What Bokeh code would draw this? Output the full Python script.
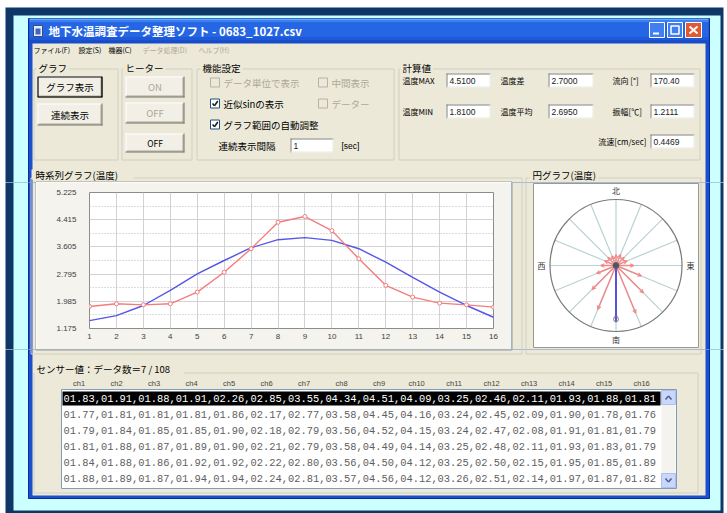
import numpy as np
from bokeh.plotting import figure
from bokeh.models import Range1d, FixedTicker, PrintfTickFormatter, ColumnDataSource
from bokeh.layouts import column, row
from bokeh.embed import file_html
from bokeh.resources import INLINE
from bokeh.core.properties import value

# ---------------- data ----------------
channels = list(range(1, 17))
channel_names = ["ch1", "ch2", "ch3", "ch4", "ch5", "ch6", "ch7", "ch8",
                 "ch9", "ch10", "ch11", "ch12", "ch13", "ch14", "ch15", "ch16"]
measured = [1.83, 1.91, 1.88, 1.91, 2.26, 2.85, 3.55, 4.34,
            4.51, 4.09, 3.25, 2.46, 2.11, 1.93, 1.88, 1.81]
fitted = [1.41, 1.56, 1.86, 2.31, 2.80, 3.20, 3.58, 3.82,
          3.88, 3.80, 3.55, 3.15, 2.70, 2.26, 1.86, 1.51]
y_ticks = [1.175, 1.985, 2.795, 3.605, 4.415, 5.225]
sensor_bearing = [0, 22.5, 45, 67.5, 90, 112.5, 135, 157.5,
                  180, 202.5, 225, 247.5, 270, 292.5, 315, 337.5]
flow_bearing = 180.0
flow_length = 0.86
sensor_rows = [
    measured,
    [1.77, 1.81, 1.81, 1.81, 1.86, 2.17, 2.77, 3.58, 4.45, 4.16, 3.24, 2.45, 2.09, 1.90, 1.78, 1.76],
    [1.79, 1.84, 1.85, 1.85, 1.90, 2.18, 2.79, 3.56, 4.52, 4.15, 3.24, 2.47, 2.08, 1.91, 1.81, 1.79],
    [1.81, 1.88, 1.87, 1.89, 1.90, 2.21, 2.79, 3.58, 4.49, 4.14, 3.25, 2.48, 2.11, 1.93, 1.83, 1.79],
    [1.84, 1.88, 1.86, 1.92, 1.92, 2.22, 2.80, 3.56, 4.50, 4.12, 3.25, 2.50, 2.15, 1.95, 1.85, 1.89],
    [1.88, 1.89, 1.87, 1.94, 1.94, 2.24, 2.81, 3.57, 4.56, 4.12, 3.26, 2.51, 2.14, 1.97, 1.87, 1.82],
]
calc_labels = [["温度MAX", "温度差", "流向 [°]"], ["温度MIN", "温度平均", "振幅[℃]"], ["", "", "流速[cm/sec]"]]
calc_values = [["4.5100", "2.7000", "170.40"], ["1.8100", "2.6950", "1.2111"], ["", "", "0.4469"]]
window_title = "地下水温調査データ整理ソフト - 0683_1027.csv"
menu_items = ["ファイル(F)", "設定(S)", "機器(C)", "データ処理(D)", "ヘルプ(H)"]
table_title = "センサー値：データ数＝7 / 108"

# ---------------- drawing helpers (pixel coordinates, origin 8px in from page corner) ----------------
JP = "Noto Sans CJK JP"
SANS = "Liberation Sans"
MONO = "Liberation Mono"
PR = []


def Q(x0, y0, x1, y1, fill=None, line=None, lw=1.0):
    PR.append(("quad", dict(x0=x0, y0=y0, x1=x1, y1=y1, fill=fill, line=line, lw=lw)))


def S(x0, y0, x1, y1, color, lw=1.0, dash="solid"):
    PR.append(("seg" + dash, dict(x0=x0, y0=y0, x1=x1, y1=y1, color=color, lw=lw, dash=dash)))


def C(x, y, r, fill=None, line=None, lw=1.0):
    PR.append(("circ", dict(x=x, y=y, r=r, fill=fill, line=line, lw=lw)))


def T(x, y, s, size=9.5, color="#000000", font=JP, align="left", style="normal"):
    PR.append(("text", dict(x=x, y=y, s=s, size=size, color=color, font=font, align=align, style=style)))


def tw(s, size):
    return sum(size if ord(c) > 0x2000 else 0.56 * size for c in s)


def bbox(kind, d):
    if kind == "quad":
        return d["x0"] - 1, d["y0"] - 1, d["x1"] + 1, d["y1"] + 1
    if kind.startswith("seg"):
        return (min(d["x0"], d["x1"]) - 1, min(d["y0"], d["y1"]) - 1,
                max(d["x0"], d["x1"]) + 1, max(d["y0"], d["y1"]) + 1)
    return d["x"] - d["r"] - 1, d["y"] - d["r"] - 1, d["x"] + d["r"] + 1, d["y"] + d["r"] + 1


def group(x0, y0, x1, y1, label, lx, size=9.5):
    Q(x0 + 0.5, y0 + 0.5, x1 - 0.5, y1 - 0.5, line="#d0d0bf")
    w = tw(label, size)
    Q(lx - 2, y0 - 5, lx + w + 2, y0 + 3, fill="#ece9d8")
    T(lx, y0 - 1, label, size)


def button(x0, y0, x1, y1, label, enabled=True, focused=False, size=9.5):
    Q(x0, y0, x1, y1, fill="#f1efe6")
    S(x0, y0 + 0.5, x1, y0 + 0.5, "#ffffff")
    S(x0 + 0.5, y0, x0 + 0.5, y1, "#ffffff")
    S(x0 + 1, y1 - 1.5, x1 - 1, y1 - 1.5, "#aca899")
    S(x1 - 1.5, y0 + 1, x1 - 1.5, y1 - 1, "#aca899")
    S(x0, y1 - 0.5, x1, y1 - 0.5, "#716f64")
    S(x1 - 0.5, y0, x1 - 0.5, y1, "#716f64")
    if focused:
        Q(x0 + 0.5, y0 + 0.5, x1 - 0.5, y1 - 0.5, line="#000000", lw=1.2)
    T((x0 + x1) / 2, (y0 + y1) / 2, label, size,
      color="#000000" if enabled else "#aca899", align="center")


def checkbox(x, y, label, checked, enabled, size=9.5):
    b = 9
    y0 = y - b / 2
    Q(x, y0, x + b, y0 + b, fill="#ffffff" if enabled else "#ece9d8",
      line="#1c5180" if enabled else "#b5b3a8")
    if checked:
        S(x + 2, y0 + 4.5, x + 4, y0 + 6.8, "#222222", 1.6)
        S(x + 4, y0 + 6.8, x + 7.3, y0 + 2, "#222222", 1.6)
    T(x + b + 4, y, label, size, color="#000000" if enabled else "#aca899")


def textbox(x0, y0, x1, y1, txt, size=8.5):
    Q(x0, y0, x1, y1, fill="#ffffff")
    S(x0, y0 + 0.5, x1, y0 + 0.5, "#808080")
    S(x0 + 0.5, y0, x0 + 0.5, y1, "#808080")
    S(x0, y1 - 0.5, x1, y1 - 0.5, "#e8e8e0")
    S(x1 - 0.5, y0, x1 - 0.5, y1, "#e8e8e0")
    T(x0 + 3, (y0 + y1) / 2, txt, size, font=SANS, color="#202020")


# ---------------- window decoration ----------------
Q(-8, -8, 719, 505, fill="#ffffff")
Q(-3, -1, 715, 505, fill="#0e3768")
Q(5, 7, 712, 502, fill="#ccffff")
Q(20, 10, 701, 490, fill="#1c4fd0", line="#0a2c96")
for a, b, c in [(10, 12, "#6aa8fb"), (12, 14, "#3d84f3"), (14, 29, "#2466e4"),
                (29, 32, "#1d59d8"), (32, 35, "#164cc6")]:
    Q(21, a, 700, b, fill=c)
Q(24, 35, 697, 487, fill="#ece9d8")

# title icon, text, buttons
Q(25, 17, 34, 28, fill="#e8ecf4", line="#3a4c78")
Q(27, 20, 32, 26, fill="#3f64c8")
T(40, 22.5, window_title, 11.5, "#ffffff", style="bold")
Q(641, 14, 656, 29, fill="#3f7ff2", line="#ffffff")
S(644.5, 25, 650.5, 25, "#ffffff", 2)
Q(659, 14, 674, 29, fill="#3f7ff2", line="#ffffff")
Q(662.5, 17.5, 670.5, 25.5, line="#ffffff", lw=1.5)
Q(677, 14, 693, 29, fill="#e2582f", line="#ffffff")
S(681, 18, 689, 25, "#ffffff", 2)
S(689, 18, 681, 25, "#ffffff", 2)

# menu
for mx, mi, en in zip([25, 70, 100, 134, 190], menu_items, [True, True, True, False, False]):
    T(mx, 41, mi, 7, "#000000" if en else "#aca899")

# group: グラフ
group(25, 60, 110, 152, "グラフ", 30)
button(29, 68, 94, 89, "グラフ表示", focused=True)
button(29, 95, 94, 117, "連続表示")
# group: ヒーター
group(113, 60, 184, 152, "ヒーター", 117)
button(117, 68, 176, 89, "ON", enabled=False)
button(117, 94, 176, 115, "OFF", enabled=False)
button(117, 125, 176, 144, "OFF", size=8.5)
# group: 機能設定
group(188, 60, 386, 152, "機能設定", 194)
checkbox(202, 74, "データ単位で表示", False, False)
checkbox(310, 74, "中間表示", False, False)
checkbox(202, 95, "近似sinの表示", True, True)
checkbox(310, 95, "データー", False, False)
checkbox(202, 116, "グラフ範囲の自動調整", True, True)
T(210, 137, "連続表示間隔", 9.5)
textbox(282, 130, 325, 144, "1")
T(333, 137, "[sec]", 8.5, font=SANS)
# group: 計算値
group(390, 60, 692, 152, "計算値", 394)
calc_row_y = [72, 103, 133]
calc_label_x = [394, 492, 604]
calc_box_x = [(438, 482), (540, 585), (642, 686)]
for ry, labs, vals in zip(calc_row_y, calc_labels, calc_values):
    for j, (lab, val) in enumerate(zip(labs, vals)):
        if not lab:
            continue
        if j == 2 and ry == calc_row_y[2]:
            T(638, ry, lab, 8, align="right")
        else:
            T(calc_label_x[j], ry, lab, 8)
        textbox(calc_box_x[j][0], ry - 7, calc_box_x[j][1], ry + 7, val)

# line-chart group and panel
Q(22.5, 169.5, 513.5, 345.5, line="#d0d0bf")
Q(23, 161, 125, 171, fill="#ece9d8")
T(27, 166, "時系列グラフ(温度)", 9.5)
Q(27.5, 173.5, 503.5, 341.5, line="#9a9a90")

# polar group
Q(517.5, 169.5, 692.5, 345.5, line="#d0d0bf")
Q(521, 161, 590, 171, fill="#ece9d8")
T(524, 166, "円グラフ(温度)", 9.5)
Q(525, 175, 690, 339, fill="#ffffff", line="#9a9a90")

# polar chart drawn from the data
cx, cy, R = 607.5, 257.0, 66.0
bear = np.deg2rad(np.array(sensor_bearing))
for b in bear:
    S(cx, cy, cx + R * np.sin(b), cy - R * np.cos(b), "#b9d2d4", 1.2)
C(cx, cy, R, line="#7a7a7a", lw=1.2)
span = y_ticks[-1] - y_ticks[0]
for b, v in zip(bear, measured):
    r = (v - y_ticks[0]) / span * R
    ex, ey = cx + r * np.sin(b), cy - r * np.cos(b)
    S(cx, cy, ex, ey, "#f08a8a", 1.4)
    for d in (-0.45, 0.45):
        S(ex, ey, ex - 4 * np.sin(b + d), ey + 4 * np.cos(b + d), "#f08a8a", 1.2)
fb = np.deg2rad(flow_bearing)
fx, fy = cx + flow_length * R * np.sin(fb), cy - flow_length * R * np.cos(fb)
S(cx, cy, fx, fy, "#4a4ae0", 1.8)
C(fx, fy - 3, 2.5, line="#8080a0", lw=1)
C(cx, cy, 2.8, fill="#4c5860", line="#4c5860")
T(cx, 182, "北", 8, "#333333", align="center")
T(cx, 331, "南", 8, "#333333", align="center")
T(533, cy, "西", 8, "#333333", align="center")
T(682, cy, "東", 8, "#333333", align="center")

# sensor table group
Q(25.5, 364.5, 689.5, 484.5, line="#d0d0bf")
Q(26, 355, 30 + tw(table_title, 9.5) + 4, 366, fill="#ece9d8")
T(28, 360, table_title, 9.5)
for i, nm in enumerate(channel_names):
    T(70.6 + 37.5 * i, 375, nm, 7.5, "#444444", font=SANS, align="center")
Q(53, 381, 668, 480, fill="#ffffff", line="#7f9db9")
Q(54, 383, 652, 397, fill="#000000")
for k, vals in enumerate(sensor_rows):
    txt = ",".join(f"{v:05.2f}" for v in vals)
    T(55, 390 + 16 * k, txt, 10.4, "#ffffff" if k == 0 else "#5e5e5e", font=MONO)
Q(653, 382, 667, 479, fill="#f4f3ee")
Q(653, 382, 667, 396, fill="#c8d7fb", line="#aebff0")
Q(653, 465, 667, 479, fill="#c8d7fb", line="#aebff0")
S(657, 391, 660, 387.5, "#4d6185", 1.5)
S(660, 387.5, 663, 391, "#4d6185", 1.5)
S(657, 470, 660, 473.5, "#4d6185", 1.5)
S(660, 473.5, 663, 470, "#4d6185", 1.5)


def render(fig, tx0, ty0, tx1, ty1):
    groups = []
    for kind, d in PR:
        if kind == "text":
            if tx0 <= d["x"] < tx1 and ty0 <= d["y"] < ty1:
                groups.append((kind, [d]))
            continue
        bx0, by0, bx1, by1 = bbox(kind, d)
        if bx1 < tx0 or bx0 > tx1 or by1 < ty0 or by0 > ty1:
            continue
        if groups and groups[-1][0] == kind:
            groups[-1][1].append(d)
        else:
            groups.append((kind, [d]))
    for kind, items in groups:
        if kind == "quad":
            src = ColumnDataSource(dict(
                l=[d["x0"] for d in items], r=[d["x1"] for d in items],
                t=[d["y0"] for d in items], b=[d["y1"] for d in items],
                fc=[d["fill"] or "#000000" for d in items],
                fa=[1.0 if d["fill"] else 0.0 for d in items],
                lc=[d["line"] or "#000000" for d in items],
                la=[1.0 if d["line"] else 0.0 for d in items],
                lw=[d["lw"] for d in items]))
            fig.quad(left="l", right="r", top="t", bottom="b", source=src,
                     fill_color="fc", fill_alpha="fa", line_color="lc",
                     line_alpha="la", line_width="lw")
        elif kind.startswith("seg"):
            src = ColumnDataSource(dict(
                x0=[d["x0"] for d in items], y0=[d["y0"] for d in items],
                x1=[d["x1"] for d in items], y1=[d["y1"] for d in items],
                c=[d["color"] for d in items], w=[d["lw"] for d in items]))
            fig.segment(x0="x0", y0="y0", x1="x1", y1="y1", source=src,
                        line_color="c", line_width="w", line_dash=items[0]["dash"])
        elif kind == "circ":
            src = ColumnDataSource(dict(
                x=[d["x"] for d in items], y=[d["y"] for d in items],
                rr=[d["r"] for d in items],
                fc=[d["fill"] or "#000000" for d in items],
                fa=[1.0 if d["fill"] else 0.0 for d in items],
                lc=[d["line"] or "#000000" for d in items],
                la=[1.0 if d["line"] else 0.0 for d in items],
                lw=[d["lw"] for d in items]))
            fig.circle(x="x", y="y", radius="rr", source=src, fill_color="fc",
                       fill_alpha="fa", line_color="lc", line_alpha="la", line_width="lw")
        else:
            d = items[0]
            fig.text(x=[d["x"]], y=[d["y"]], text=[d["s"]], text_font=value(d["font"]),
                     text_font_size=value(f'{d["size"]}px'), text_color=d["color"],
                     text_align=d["align"], text_baseline="middle",
                     text_font_style=d["style"])


def tile(x0, y0, w, h):
    f = figure(width=w, height=h, frame_width=w, frame_height=h,
               x_range=Range1d(x0, x0 + w), y_range=Range1d(y0 + h, y0),
               x_axis_type=None, y_axis_type=None, toolbar_location=None,
               output_backend="svg", min_border=0, outline_line_color=None,
               background_fill_color=None, border_fill_color=None, frame_align=False)
    f.grid.visible = False
    render(f, x0, y0, x0 + w, y0 + h)
    return f


# ---------------- the line chart (real axes) ----------------
chart = figure(width=475, height=167, frame_width=404, frame_height=136,
               x_range=Range1d(channels[0], channels[-1]),
               y_range=Range1d(y_ticks[0], y_ticks[-1]), toolbar_location=None,
               output_backend="svg", min_border_left=53, min_border_right=18,
               min_border_top=10, min_border_bottom=21, frame_align=False,
               background_fill_color="#ffffff", border_fill_color="#f4f3ee",
               outline_line_color="#8c8c8c")
y_minor = [(a + b) / 2 for a, b in zip(y_ticks[:-1], y_ticks[1:])]
chart.xaxis.ticker = FixedTicker(ticks=channels)
chart.yaxis.ticker = FixedTicker(ticks=y_ticks, minor_ticks=y_minor)
chart.yaxis.formatter = PrintfTickFormatter(format="%.3f")
for ax in (chart.xaxis, chart.yaxis):
    ax.axis_line_color = None
    ax.major_tick_line_color = None
    ax.minor_tick_line_color = None
    ax.major_tick_out = 0
    ax.major_tick_in = 0
    ax.major_label_text_font = SANS
    ax.major_label_text_font_size = "8px"
    ax.major_label_text_color = "#404040"
chart.yaxis.major_label_standoff = 9
chart.xaxis.major_label_standoff = 5
chart.xgrid.grid_line_color = "#d2d2d2"
chart.ygrid.grid_line_color = "#d2d2d2"
chart.ygrid.minor_grid_line_color = "#b8b8b8"
chart.ygrid.minor_grid_line_dash = "1 2"
chart.line(channels, fitted, line_color="#5656e6", line_width=1.4)
chart.line(channels, measured, line_color="#f47c7c", line_width=1.4)
chart.scatter(channels, measured, marker="circle", size=4, line_color="#f47c7c",
              fill_color="#ffffff", line_width=1)

top = tile(-8, -8, 727, 182)
left = tile(-8, 174, 36, 167)
right = tile(503, 174, 216, 167)
bottom = tile(-8, 341, 727, 164)

layout = column(top, row(left, chart, right), bottom)
open("out.html", "w").write(file_html(layout, INLINE))
